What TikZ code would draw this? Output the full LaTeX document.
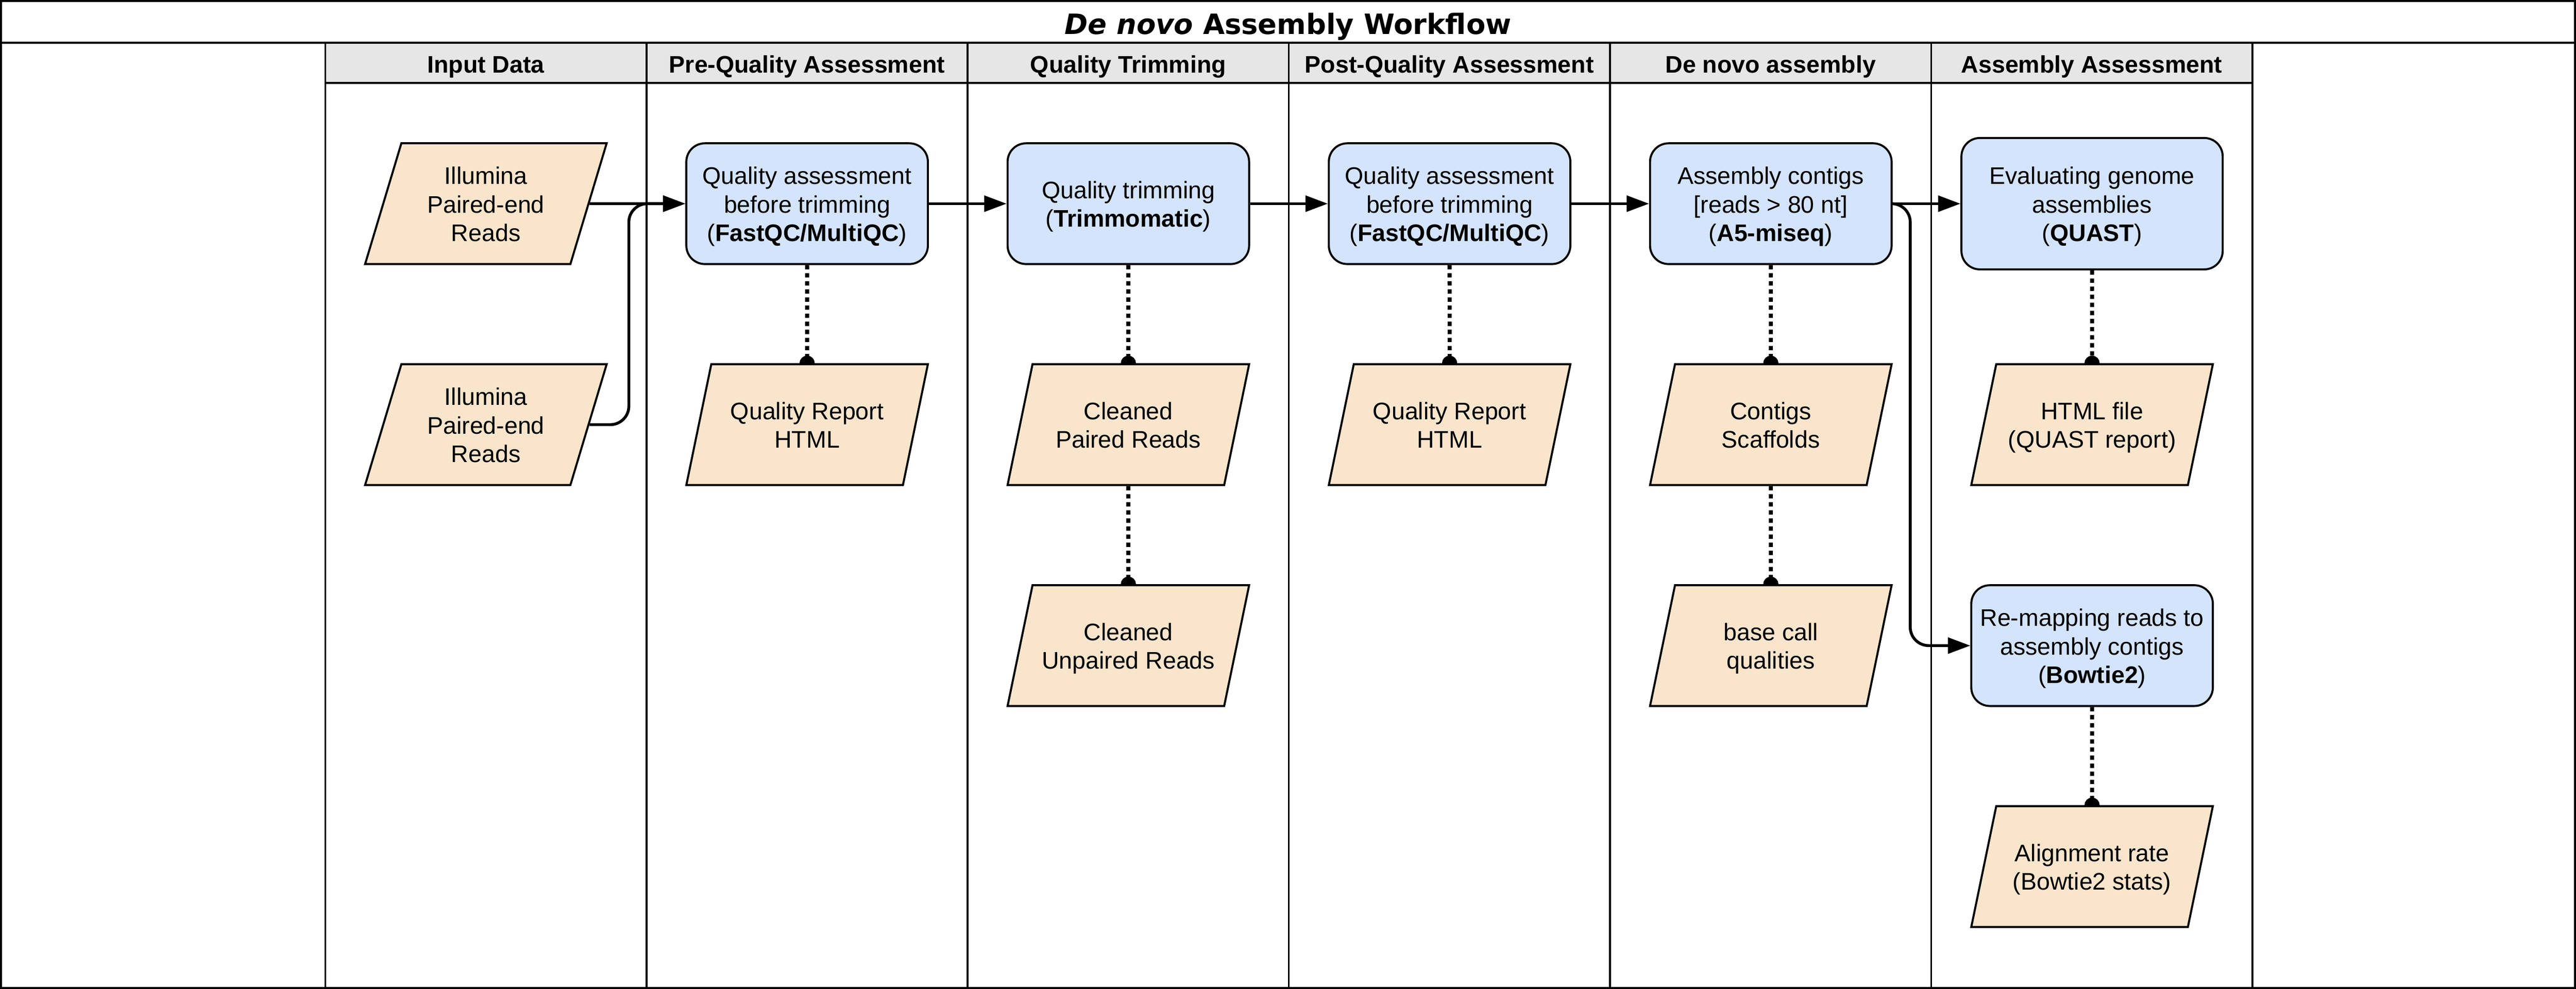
\documentclass[tikz,border=0pt]{standalone}
\usepackage{fontspec}
\setmainfont{Liberation Sans}
\newfontfamily\titlefont{DejaVu Sans}
\usepackage{tikz}
\usetikzlibrary{shapes, arrows.meta, positioning, calc}
\definecolor{procfill}{RGB}{212,228,252}
\definecolor{datafill}{RGB}{248,229,204}
\definecolor{headfill}{RGB}{230,230,230}
\tikzstyle{process} = [rectangle, rounded corners=0.45cm, minimum width=5.88cm, minimum height=2.94cm, inner sep=2pt, text centered, draw=black, fill=procfill, line width=1.4pt, font=\fontsize{16.6}{19.7}\selectfont]
\tikzstyle{datafile} = [trapezium, trapezium left angle=68.3, trapezium right angle=111.7, trapezium stretches body=true, minimum width=5.88cm, minimum height=2.94cm, inner xsep=0pt, inner ysep=2pt, text centered, draw=black, fill=datafill, line width=1.4pt, font=\fontsize{16.6}{19.7}\selectfont]
\tikzstyle{lanehead} = [anchor=base, font=\fontsize{16.6}{19.7}\selectfont\bfseries]
\tikzstyle{lane} = [line width=1.3pt, draw=black]
\tikzstyle{flow} = [line width=2pt, -{Triangle[length=15.5pt, width=11pt]}]
\tikzstyle{dots} = [line width=2.8pt, dash pattern=on 3pt off 2.6pt, -{Circle[length=10.5pt]}, shorten >=-5.25pt]
% lines of a box, centred and set a little low like the original
\newcommand{\celltext}[1]{\makebox[3.4cm]{\raisebox{-2.4pt}[\height][\depth]{\begin{tabular}{@{}c@{}}#1\end{tabular}}}}
\pgfdeclarelayer{lanes}
\pgfdeclarelayer{edges}
\pgfsetlayers{lanes,edges,main}

\begin{document}
\begin{tikzpicture}[x=0.04cm, y=-0.04cm, node distance=5.38cm]
\useasboundingbox (0,0) rectangle (1568,602.04);

\node (title) [anchor=base, font=\titlefont\fontsize{19.4}{23}\selectfont\bfseries] at (784,20.9) {\textit{De novo} Assembly Workflow};
\node (head0) [lanehead] at (295.75,44.5) {Input Data};
\node (head1) [lanehead] at (491.25,44.5) {Pre-Quality Assessment};
\node (head2) [lanehead] at (686.75,44.5) {Quality Trimming};
\node (head3) [lanehead] at (882.25,44.5) {Post-Quality Assessment};
\node (head4) [lanehead] at (1077.75,44.5) {De novo assembly};
\node (head5) [lanehead] at (1273.25,44.5) {Assembly Assessment};

\node (in1) [datafile] at (295.75,124) {\celltext{Illumina\\Paired-end\\Reads}};
\node (in2) [datafile, below of=in1] {\celltext{Illumina\\Paired-end\\Reads}};
\node (qa1) [process, right of=in1, xshift=2.44cm] {\celltext{Quality assessment\\before trimming\\(\textbf{FastQC/MultiQC})}};
\node (rep1) [datafile, below of=qa1] {\celltext{Quality Report\\HTML}};
\node (trim) [process, right of=qa1, xshift=2.44cm] {\celltext{Quality trimming\\(\textbf{Trimmomatic})}};
\node (paired) [datafile, below of=trim] {\celltext{Cleaned\\Paired Reads}};
\node (unpaired) [datafile, below of=paired] {\celltext{Cleaned\\Unpaired Reads}};
\node (qa2) [process, right of=trim, xshift=2.44cm] {\celltext{Quality assessment\\before trimming\\(\textbf{FastQC/MultiQC})}};
\node (rep2) [datafile, below of=qa2] {\celltext{Quality Report\\HTML}};
\node (asm) [process, right of=qa2, xshift=2.44cm] {\celltext{Assembly contigs\\{[reads > 80 nt]}\\(\textbf{A5-miseq})}};
\node (contigs) [datafile, below of=asm] {\celltext{Contigs\\Scaffolds}};
\node (basecall) [datafile, below of=contigs] {\celltext{base call\\qualities}};
\node (quast) [process, right of=asm, xshift=2.44cm, minimum width=6.36cm, minimum height=3.2cm] {\celltext{Evaluating genome\\assemblies\\(\textbf{QUAST})}};
\node (html) [datafile, below of=quast] {\celltext{HTML file\\(QUAST report)}};
\node (remap) [process, below of=html] {\celltext{Re-mapping reads to\\assembly contigs\\(\textbf{Bowtie2})}};
\node (alnrate) [datafile, below of=remap] {\celltext{Alignment rate\\(Bowtie2 stats)}};

\coordinate (j1) at ($(in1.east)!0.41!(qa1.west)$);
\coordinate (j2) at ($(asm.east)!0.26!(quast.west)$);

\begin{pgfonlayer}{lanes}
\fill[headfill] (198,26) rectangle (1371,50.5);
\draw[lane] (0.6,0.6) rectangle (1567.4,601.4);
\draw[lane] (0,26) -- (1568,26);
\draw[lane] (198,50.5) -- (1371,50.5);
\draw[lane] (198,26) -- (198,601.4);
\draw[lane] (393.5,26) -- (393.5,601.4);
\draw[lane] (589,26) -- (589,601.4);
\draw[lane] (784.5,26) -- (784.5,601.4);
\draw[lane] (980,26) -- (980,601.4);
\draw[lane] (1175.5,26) -- (1175.5,601.4);
\draw[lane] (1371,26) -- (1371,601.4);
\end{pgfonlayer}

\begin{pgfonlayer}{edges}
\draw[flow] (in1) -- (qa1);
\draw[flow, rounded corners=0.45cm] (in2.east) -| (j1) -- (qa1.west);
\draw[flow] (qa1) -- (trim);
\draw[flow] (trim) -- (qa2);
\draw[flow] (qa2) -- (asm);
\draw[flow] (asm) -- (quast);
\draw[flow, rounded corners=0.45cm] (asm.east) -- (j2) |- (remap.west);
\draw[dots] (qa1) -- (rep1);
\draw[dots] (trim) -- (paired);
\draw[dots] (paired) -- (unpaired);
\draw[dots] (qa2) -- (rep2);
\draw[dots] (asm) -- (contigs);
\draw[dots] (contigs) -- (basecall);
\draw[dots] (quast) -- (html);
\draw[dots] (remap) -- (alnrate);
\end{pgfonlayer}
\end{tikzpicture}
\end{document}
